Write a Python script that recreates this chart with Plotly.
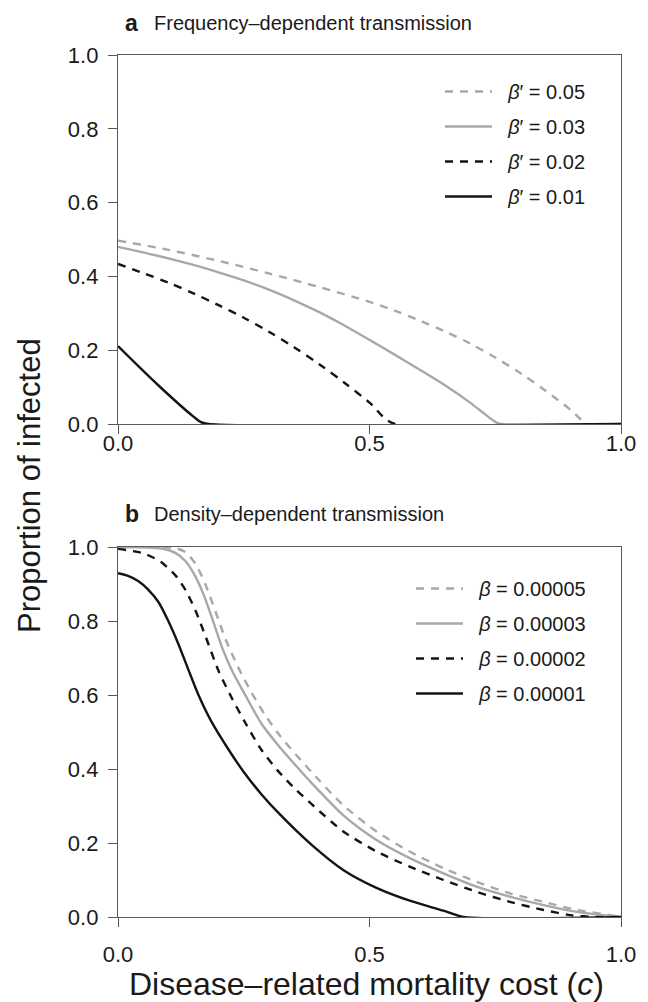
import plotly.graph_objects as go

# ---------------- data ----------------
# Panel a: frequency-dependent transmission
fd_labels = ["<i>β</i>′ = 0.05", "<i>β</i>′ = 0.03", "<i>β</i>′ = 0.02", "<i>β</i>′ = 0.01"]
fd_c_005 = [0, 0.1, 0.2, 0.3, 0.4, 0.5, 0.55, 0.6, 0.65, 0.7, 0.75, 0.8, 0.85, 0.9, 0.925, 0.93, 1.0]
fd_y_005 = [0.497, 0.472, 0.442, 0.408, 0.371, 0.331, 0.307, 0.280, 0.251, 0.218, 0.180,
            0.138, 0.090, 0.038, 0.006, 0.0, 0.0]
fd_c_003 = [0, 0.05, 0.1, 0.15, 0.2, 0.25, 0.3, 0.35, 0.4, 0.45, 0.5, 0.55, 0.6, 0.65,
            0.7, 0.73, 0.75, 0.76, 1.0]
fd_y_003 = [0.480, 0.465, 0.449, 0.431, 0.411, 0.389, 0.364, 0.335, 0.303, 0.267, 0.228,
            0.188, 0.147, 0.105, 0.058, 0.026, 0.006, 0.0, 0.0]
fd_c_002 = [0, 0.05, 0.1, 0.15, 0.2, 0.25, 0.3, 0.35, 0.4, 0.45, 0.5, 0.55, 1.0]
fd_y_002 = [0.434, 0.409, 0.383, 0.354, 0.322, 0.288, 0.250, 0.208, 0.162, 0.112, 0.058, 0.0, 0.0]
fd_c_001 = [0, 0.08, 0.15, 0.165, 0.18, 1.0]
fd_y_001 = [0.211, 0.105, 0.020, 0.005, 0.0, 0.0]

# Panel b: density-dependent transmission
dd_labels = ["<i>β</i> = 0.00005", "<i>β</i> = 0.00003", "<i>β</i> = 0.00002", "<i>β</i> = 0.00001"]
dd_c_5 = [0, 0.114, 0.134, 0.154, 0.174, 0.194, 0.214, 0.24, 0.266, 0.293, 0.319, 0.353,
          0.386, 0.447, 0.514, 0.58, 0.647, 0.713, 0.779, 0.846, 0.912, 0.978, 1.0]
dd_y_5 = [1.0, 0.997, 0.986, 0.955, 0.898, 0.825, 0.750, 0.672, 0.605, 0.545, 0.495, 0.440,
          0.390, 0.303, 0.231, 0.177, 0.132, 0.095, 0.064, 0.041, 0.019, 0.005, 0.0]
dd_c_3 = [0, 0.087, 0.114, 0.134, 0.154, 0.17, 0.187, 0.207, 0.227, 0.253, 0.285, 0.318,
          0.353, 0.385, 0.447, 0.514, 0.58, 0.647, 0.713, 0.779, 0.846, 0.912, 0.978, 1.0]
dd_y_3 = [1.0, 0.996, 0.984, 0.962, 0.920, 0.872, 0.808, 0.728, 0.665, 0.600, 0.523, 0.465,
          0.410, 0.362, 0.276, 0.208, 0.159, 0.118, 0.082, 0.055, 0.032, 0.014, 0.003, 0.0]
dd_c_2 = [0, 0.05, 0.085, 0.115, 0.135, 0.155, 0.175, 0.2, 0.227, 0.253, 0.285, 0.318,
          0.353, 0.385, 0.447, 0.514, 0.58, 0.647, 0.713, 0.779, 0.846, 0.9, 0.95, 1.0]
dd_y_2 = [0.995, 0.983, 0.960, 0.922, 0.882, 0.825, 0.755, 0.665, 0.590, 0.525, 0.452, 0.395,
          0.345, 0.305, 0.232, 0.177, 0.136, 0.100, 0.068, 0.041, 0.019, 0.005, 0.0, 0.0]
dd_c_1 = [0, 0.02, 0.04, 0.06, 0.08, 0.10, 0.12, 0.14, 0.16, 0.185, 0.22, 0.25, 0.285,
          0.32, 0.385, 0.45, 0.515, 0.58, 0.647, 0.687, 1.0]
dd_y_1 = [0.929, 0.922, 0.908, 0.885, 0.852, 0.800, 0.738, 0.668, 0.600, 0.530, 0.452,
          0.392, 0.332, 0.280, 0.195, 0.125, 0.078, 0.044, 0.017, 0.0, 0.0]

x_ticks = [0, 0.5, 1.0]
x_ticktext = ["0.0", "0.5", "1.0"]
y_ticks = [0, 0.2, 0.4, 0.6, 0.8, 1.0]
y_ticktext = ["0.0", "0.2", "0.4", "0.6", "0.8", "1.0"]

# ---------------- styles ----------------
GRAY = "#a8a8a8"
BLACK = "#141414"
styles = [
    dict(color=GRAY, dash="8px,7px"),
    dict(color=GRAY, dash="solid"),
    dict(color=BLACK, dash="8px,7px"),
    dict(color=BLACK, dash="solid"),
]
FONT = "Liberation Sans, Arial, Helvetica, sans-serif"
PAD = "\u00a0\u00a0"

W, H = 648, 1002
OFF = 8  # page offset of the figure inside the browser window


def px(xp):
    return (xp - OFF) / W


def py(yp):
    return 1 - (yp - OFF) / H


fig = go.Figure()

top_series = [(fd_c_005, fd_y_005), (fd_c_003, fd_y_003), (fd_c_002, fd_y_002), (fd_c_001, fd_y_001)]
bot_series = [(dd_c_5, dd_y_5), (dd_c_3, dd_y_3), (dd_c_2, dd_y_2), (dd_c_1, dd_y_1)]

for i, ((xs, ys), lab) in enumerate(zip(top_series, fd_labels)):
    fig.add_trace(go.Scatter(
        x=xs, y=ys, mode="lines", name=PAD + lab, xaxis="x", yaxis="y",
        line=dict(color=styles[i]["color"], dash=styles[i]["dash"], width=2.4,
                  shape="spline", smoothing=0.9),
        legend="legend", legendgroup=f"a{i}"))

for i, ((xs, ys), lab) in enumerate(zip(bot_series, dd_labels)):
    fig.add_trace(go.Scatter(
        x=xs, y=ys, mode="lines", name=PAD + lab, xaxis="x2", yaxis="y2",
        line=dict(color=styles[i]["color"], dash=styles[i]["dash"], width=2.4,
                  shape="spline", smoothing=0.7),
        legend="legend2", legendgroup=f"b{i}"))

xd = [px(118), px(621)]
yd_top = [py(424), py(55)]
yd_bot = [py(917), py(547)]

axis_common = dict(
    range=[0, 1], showgrid=False, zeroline=False, automargin=False,
    showline=True, mirror=True, linecolor="#5a5a5a", linewidth=1.3,
    ticks="outside", ticklen=9, tickwidth=1.3, tickcolor="#5a5a5a",
    tickfont=dict(family=FONT, size=22, color="#1a1a1a"),
)

legend_common = dict(xanchor="left", yanchor="top", bgcolor="rgba(0,0,0,0)",
                     font=dict(family=FONT, size=20, color="#1a1a1a"),
                     traceorder="grouped", tracegroupgap=6, itemwidth=47)

fig.update_layout(
    width=W, height=H,
    margin=dict(l=0, r=0, t=0, b=0),
    paper_bgcolor="white", plot_bgcolor="white",
    font=dict(family=FONT, color="#1a1a1a"),
    xaxis=dict(domain=xd, anchor="y", tickvals=x_ticks, ticktext=x_ticktext,
               ticklabelstandoff=-10, **axis_common),
    yaxis=dict(domain=yd_top, anchor="x", tickvals=y_ticks, ticktext=y_ticktext,
               ticklabelstandoff=5, **axis_common),
    xaxis2=dict(domain=xd, anchor="y2", tickvals=x_ticks, ticktext=x_ticktext,
                ticklabelstandoff=8, **axis_common),
    yaxis2=dict(domain=yd_bot, anchor="x2", tickvals=y_ticks, ticktext=y_ticktext,
                ticklabelstandoff=5, **axis_common),
    legend=dict(x=px(440), y=py(72), **legend_common),
    legend2=dict(x=px(411), y=py(569), **legend_common),
    showlegend=True,
)

annotations = [
    dict(text="<b>a</b>", x=px(123), y=py(23), size=23),
    dict(text="Frequency–dependent transmission", x=px(152), y=py(23), size=20),
    dict(text="<b>b</b>", x=px(123), y=py(514), size=23),
    dict(text="Density–dependent transmission", x=px(152), y=py(514), size=20),
]
for a in annotations:
    fig.add_annotation(xref="paper", yref="paper", xanchor="left", yanchor="middle",
                       showarrow=False, text=a["text"], x=a["x"], y=a["y"],
                       font=dict(family=FONT, size=a["size"], color="#1a1a1a"))

fig.add_annotation(xref="paper", yref="paper", x=px((127 + 605) / 2), y=py(984),
                   xanchor="center", yanchor="middle", showarrow=False,
                   text="Disease–related mortality cost (<i>c</i>)",
                   font=dict(family=FONT, size=32, color="#1a1a1a"))
fig.add_annotation(xref="paper", yref="paper", x=px(30), y=py(486),
                   xanchor="center", yanchor="middle", showarrow=False, textangle=-90,
                   text="Proportion of infected",
                   font=dict(family=FONT, size=31, color="#1a1a1a"))

fig.write_html("out.html")
